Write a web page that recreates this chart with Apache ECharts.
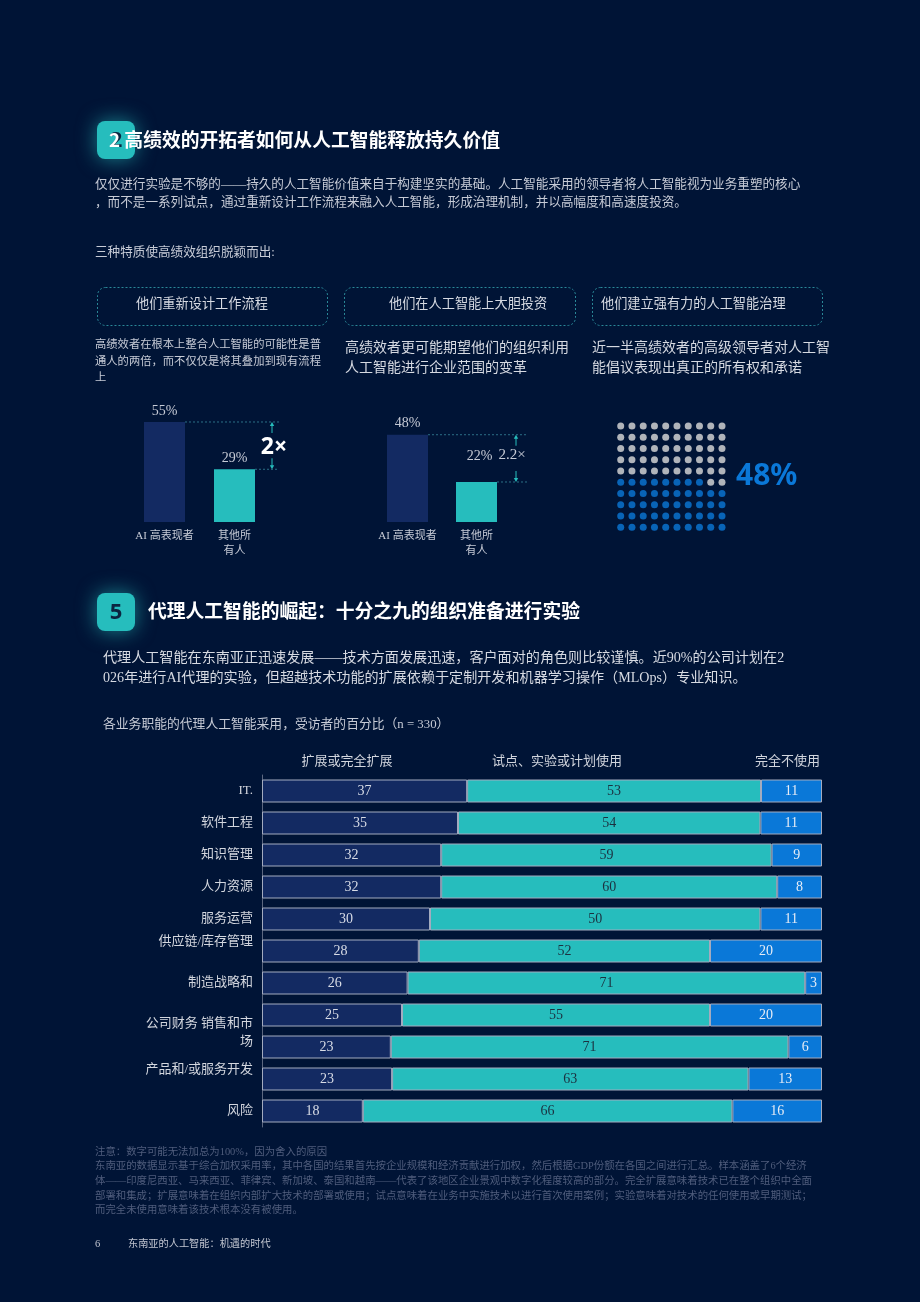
<!DOCTYPE html>
<html><head><meta charset="utf-8">
<script src="https://cdn.jsdelivr.net/npm/echarts@6/dist/echarts.min.js"></script>
<style>html,body{margin:0;padding:0;background:#001436;}#c{width:920px;height:1302px;}</style>
</head><body><div id="c"></div>
<script>
// ---------- DATA ----------
const workflowCats = ['AI 高表现者', '其他所\n有人'];
const workflowValues = [55, 29];
const investCats = ['AI 高表现者', '其他所\n有人'];
const investValues = [48, 22];
const governanceShare = 48; // % of dots highlighted

const seriesNames = ['扩展或完全扩展', '试点、实验或计划使用', '完全不使用'];
const functionLabels = ['IT.', '软件工程', '知识管理', '人力资源', '服务运营', '供应链/库存管理\n', '制造战略和', '\n\n公司财务 销售和市\n场', '', '产品和/或服务开发\n', '风险'];
const scaledValues  = [37, 35, 32, 32, 30, 28, 26, 25, 23, 23, 18];
const pilotValues   = [53, 54, 59, 60, 59, 52, 71, 55, 71, 63, 66]; // bar lengths as drawn
const pilotLabels   = [53, 54, 59, 60, 50, 52, 71, 55, 71, 63, 66]; // numbers printed on bars
const notUsedValues = [11, 11, 9, 8, 11, 20, 3, 20, 6, 13, 16];

// ---------- STYLE ----------
const BG = '#001436';
const NAVY = '#132a62', TEAL = '#26bdbd', BLUE = '#0a78d8', GREY = '#dcdcdc';
const SERIF = "'Liberation Serif','Noto Sans CJK SC',serif";
const CJK = "'Noto Sans CJK SC','Noto Sans',sans-serif";
const TXT = '#c6cbd6';

const chart = echarts.init(document.getElementById('c'), null, {renderer: 'canvas'});

const rowTotals = scaledValues.map((s, i) => s + pilotValues[i] + notUsedValues[i]);
const norm = arr => arr.map((v, i) => v / rowTotals[i] * 100);

const waffle = [];
for (let k = 0; k < 100; k++) {
  waffle.push({value: [k % 10, Math.floor(k / 10)], itemStyle: {color: k < governanceShare ? BLUE : GREY}});
}

const smallBar = (gi, cats, vals, extraLabel) => ({
  type: 'bar', xAxisIndex: gi, yAxisIndex: gi, barWidth: 41,
  data: vals.map((v, i) => ({value: v, itemStyle: {color: i === 0 ? NAVY : TEAL},
    label: (extraLabel && i === 1) ? {offset: extraLabel} : undefined})),
  label: {show: true, position: 'top', distance: 4, formatter: '{c}%', color: TXT, fontSize: 14, fontFamily: SERIF},
  silent: true
});

const stackBar = (name, vals, labels, color, labelColor) => ({
  type: 'bar', name, stack: 'all', xAxisIndex: 3, yAxisIndex: 3, barWidth: 23,
  data: norm(vals),
  itemStyle: {color, borderColor: '#a3abbf', borderWidth: 1},
  label: {show: true, position: 'inside', color: labelColor, fontSize: 14, fontFamily: SERIF,
    formatter: p => String(labels[p.dataIndex])},
  silent: true
});

const catAxis = (gi, cats) => ({
  type: 'category', gridIndex: gi, data: cats,
  axisLine: {show: false}, axisTick: {show: false},
  axisLabel: {color: TXT, fontSize: 11, fontFamily: SERIF, margin: 7, lineHeight: 15, interval: 0}
});

const option = {
  backgroundColor: BG,
  animation: false,
  grid: [
    {left: 129.5, top: 412.9, width: 140, height: 109.1},
    {left: 373, top: 412.9, width: 138, height: 109.1},
    {left: 620.7, top: 426, width: 101.3, height: 101.3},
    {left: 262, top: 775, width: 560, height: 352}
  ],
  xAxis: [
    catAxis(0, workflowCats),
    catAxis(1, investCats),
    {type: 'value', gridIndex: 2, min: 0, max: 9, show: false},
    {type: 'value', gridIndex: 3, min: 0, max: 100, show: false}
  ],
  yAxis: [
    {type: 'value', gridIndex: 0, min: 0, max: 60, show: false},
    {type: 'value', gridIndex: 1, min: 0, max: 60, show: false},
    {type: 'value', gridIndex: 2, min: 0, max: 9, show: false},
    {type: 'category', gridIndex: 3, data: functionLabels, inverse: true,
      axisLine: {show: true, lineStyle: {color: '#5c6780', width: 1}}, axisTick: {show: false},
      axisLabel: {color: '#d2d6de', fontSize: 13, fontFamily: SERIF, margin: 9, lineHeight: 18, interval: 0}}
  ],
  series: [
    smallBar(0, workflowCats, workflowValues),
    smallBar(1, investCats, investValues, [3, -15]),
    {type: 'scatter', xAxisIndex: 2, yAxisIndex: 2, symbolSize: 7, data: waffle, silent: true},
    stackBar(seriesNames[0], scaledValues, scaledValues, NAVY, '#d8dce6'),
    stackBar(seriesNames[1], pilotValues, pilotLabels, TEAL, '#1c3140'),
    stackBar(seriesNames[2], notUsedValues, notUsedValues, BLUE, '#e6ecf6')
  ]
};
chart.setOption(option);

// ---------- TEXT & ANNOTATIONS ----------
const G = [];
const txt = (x, y, text, o = {}) => G.push({type: 'text', silent: true, style: Object.assign({
  x, y, text, fill: TXT, fontSize: 13, fontFamily: SERIF, verticalAlign: 'middle', align: 'left'}, o)});
const badge = (y, num) => {
  G.push({type: 'rect', silent: true, shape: {x: 97, y, width: 38, height: 38, r: 8},
    style: {fill: TEAL, shadowBlur: 20, shadowColor: 'rgba(38,189,189,0.65)'}});
  txt(116, y + 20, num, {align: 'center', fill: '#0b2540', fontSize: 22, fontWeight: 'bold', fontFamily: "'Noto Sans',sans-serif"});
};

// Section 2
badge(121, '2');
txt(109, 140, '2 高绩效的开拓者如何从人工智能释放持久价值', {fill: '#ffffff', fontSize: 18.8, fontWeight: 'bold', fontFamily: CJK});
txt(95, 185, '仅仅进行实验是不够的——持久的人工智能价值来自于构建坚实的基础。人工智能采用的领导者将人工智能视为业务重塑的核心', {fontSize: 12.6});
txt(95, 203, '，而不是一系列试点，通过重新设计工作流程来融入人工智能，形成治理机制，并以高幅度和高速度投资。', {fontSize: 12.6});
txt(95, 253, '三种特质使高绩效组织脱颖而出:', {fontSize: 12.6});

const boxes = [[97, 230, 136, '他们重新设计工作流程'], [344, 231, 389, '他们在人工智能上大胆投资'], [592, 230, 601, '他们建立强有力的人工智能治理']];
boxes.forEach(([x, w, tx, t]) => {
  G.push({type: 'rect', silent: true, shape: {x: x + 0.5, y: 287.5, width: w, height: 38, r: 8},
    style: {fill: 'none', stroke: '#2a8898', lineWidth: 1, lineDash: [2, 2]}});
  txt(tx, 305, t, {fontSize: 13.2, fill: '#d6dae2'});
});
txt(95, 345, '高绩效者在根本上整合人工智能的可能性是普', {fontSize: 11.3});
txt(95, 362, '通人的两倍，而不仅仅是将其叠加到现有流程', {fontSize: 11.3});
txt(95, 378, '上', {fontSize: 11.3});
txt(345, 348, '高绩效者更可能期望他们的组织利用', {fontSize: 14, fill: '#d6dae2'});
txt(345, 368, '人工智能进行企业范围的变革', {fontSize: 14, fill: '#d6dae2'});
txt(592, 348, '近一半高绩效者的高级领导者对人工智', {fontSize: 14, fill: '#d6dae2'});
txt(592, 368, '能倡议表现出真正的所有权和承诺', {fontSize: 14, fill: '#d6dae2'});

// ratio annotations
const px = (g, x, y) => chart.convertToPixel({gridIndex: g}, [x, y]);
const annot = (g, vals, ax, xEnd) => {
  const a = px(g, 0, vals[0]), b = px(g, 1, vals[1]);
  const lines = [[a[0] + 20.5, a[1]], [b[0] + 20.5, b[1]]];
  lines.forEach(([x0, y]) => G.push({type: 'line', silent: true, shape: {x1: x0, y1: y, x2: xEnd, y2: y},
    style: {stroke: '#2b6f86', lineWidth: 1, lineDash: [2, 2]}}));
  const yT = a[1], yB = b[1], L = 11;
  G.push({type: 'line', silent: true, shape: {x1: ax, y1: yT + 3, x2: ax, y2: yT + L}, style: {stroke: TEAL, lineWidth: 1}});
  G.push({type: 'polygon', silent: true, shape: {points: [[ax, yT], [ax - 2.2, yT + 4], [ax + 2.2, yT + 4]]}, style: {fill: TEAL}});
  G.push({type: 'line', silent: true, shape: {x1: ax, y1: yB - L, x2: ax, y2: yB - 3}, style: {stroke: TEAL, lineWidth: 1}});
  G.push({type: 'polygon', silent: true, shape: {points: [[ax, yB], [ax - 2.2, yB - 4], [ax + 2.2, yB - 4]]}, style: {fill: TEAL}});
};
annot(0, workflowValues, 272, 279);
annot(1, investValues, 516, 527);
txt(274, 447, '2×', {align: 'center', fill: '#ffffff', fontSize: 23, fontWeight: 'bold', fontFamily: "'Noto Sans',sans-serif"});
txt(512, 455, '2.2×', {align: 'center', fill: '#c6cbd6', fontSize: 15, fontFamily: SERIF});
txt(736, 476, governanceShare + '%', {fill: BLUE, fontSize: 30, fontWeight: 'bold', fontFamily: "'Noto Sans',sans-serif"});

// Section 5
badge(593, '5');
txt(148, 611, '代理人工智能的崛起：十分之九的组织准备进行实验', {fill: '#ffffff', fontSize: 18.8, fontWeight: 'bold', fontFamily: CJK});
txt(103, 658, '代理人工智能在东南亚正迅速发展——技术方面发展迅速，客户面对的角色则比较谨慎。近90%的公司计划在2', {fontSize: 14.1, fill: '#d6dae2'});
txt(103, 678, '026年进行AI代理的实验，但超越技术功能的扩展依赖于定制开发和机器学习操作（MLOps）专业知识。', {fontSize: 14.1, fill: '#d6dae2'});
txt(103, 725, '各业务职能的代理人工智能采用，受访者的百分比（n = 330）', {fontSize: 12.8});
txt(347, 762, seriesNames[0], {align: 'center', fontSize: 13, fill: '#d2d6de'});
txt(557, 762, seriesNames[1], {align: 'center', fontSize: 13, fill: '#d2d6de'});
txt(820, 762, seriesNames[2], {align: 'right', fontSize: 13, fill: '#d2d6de'});

// notes
const NOTE = '#4f5d7c';
const notes = [
  '注意：数字可能无法加总为100%，因为舍入的原因',
  '东南亚的数据显示基于综合加权采用率，其中各国的结果首先按企业规模和经济贡献进行加权，然后根据GDP份额在各国之间进行汇总。样本涵盖了6个经济',
  '体——印度尼西亚、马来西亚、菲律宾、新加坡、泰国和越南——代表了该地区企业景观中数字化程度较高的部分。完全扩展意味着技术已在整个组织中全面',
  '部署和集成；扩展意味着在组织内部扩大技术的部署或使用；试点意味着在业务中实施技术以进行首次使用案例；实验意味着对技术的任何使用或早期测试；',
  '而完全未使用意味着该技术根本没有被使用。'
];
const noteY = [1152, 1166, 1181, 1196, 1210];
notes.forEach((t, i) => txt(95, noteY[i], t, {fontSize: 10.4, fill: NOTE}));
txt(95, 1244, '6', {fontSize: 10.5, fill: '#c0c5d0'});
txt(128, 1244, '东南亚的人工智能：机遇的时代', {fontSize: 10.2, fill: '#c0c5d0'});

chart.setOption({graphic: G});
</script></body></html>
